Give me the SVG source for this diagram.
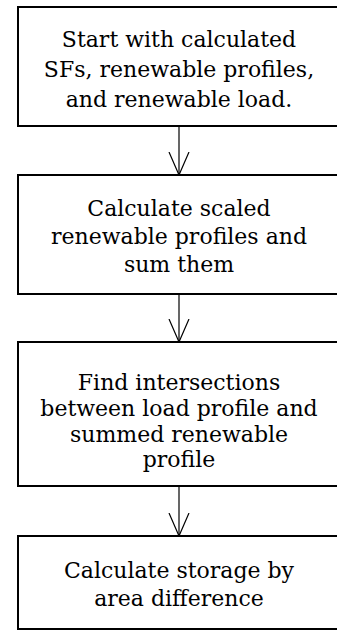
<svg xmlns="http://www.w3.org/2000/svg" width="337" height="631" viewBox="0 0 337 631">
<defs>
<style>
.box{fill:#fff;stroke:#000;stroke-width:2}
.lbl{font-family:"DejaVu Serif","Liberation Serif",serif;font-size:22px;fill:#000;text-anchor:middle}
.conn{stroke:#000;stroke-width:1.2;fill:none}
</style>
<marker id="arr" markerUnits="userSpaceOnUse" markerWidth="26" markerHeight="24" refX="23" refY="11" orient="auto" viewBox="0 0 26 22">
<path d="M0,1 L23,11 L0,21" fill="none" stroke="#000" stroke-width="1.2"/>
</marker>
</defs>
<g id="connectors">
<path class="conn" d="M179,127 V175" marker-end="url(#arr)"/>
<path class="conn" d="M179,295 V342" marker-end="url(#arr)"/>
<path class="conn" d="M179,487 V536" marker-end="url(#arr)"/>
</g>
<g id="n1">
<rect class="box" x="18" y="7" width="330" height="119"/>
<text class="lbl"><tspan x="179" y="47">Start with calculated</tspan><tspan x="179" y="77">SFs, renewable profiles,</tspan><tspan x="179" y="107">and renewable load.</tspan></text>
</g>
<g id="n2">
<rect class="box" x="18" y="175" width="330" height="119"/>
<text class="lbl"><tspan x="179" y="216">Calculate scaled</tspan><tspan x="179" y="244">renewable profiles and</tspan><tspan x="179" y="272">sum them</tspan></text>
</g>
<g id="n3">
<rect class="box" x="18" y="342" width="330" height="144"/>
<text class="lbl"><tspan x="179" y="390">Find intersections</tspan><tspan x="179" y="416">between load profile and</tspan><tspan x="179" y="442">summed renewable</tspan><tspan x="179" y="467">profile</tspan></text>
</g>
<g id="n4">
<rect class="box" x="18" y="536" width="330" height="93"/>
<text class="lbl"><tspan x="179" y="578">Calculate storage by</tspan><tspan x="179" y="606">area difference</tspan></text>
</g>
</svg>
